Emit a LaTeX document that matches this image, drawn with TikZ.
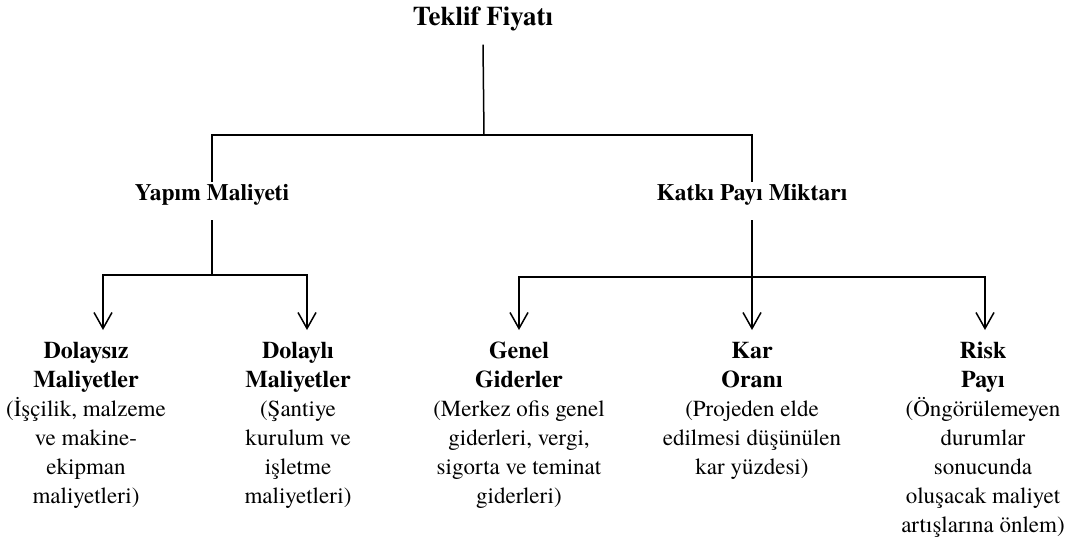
\documentclass[tikz,border=0pt]{standalone}
\usepackage{fontspec}
\setmainfont{texgyretermes}[Extension=.otf,UprightFont=*-regular,BoldFont=*-bold,ItalicFont=*-italic,BoldItalicFont=*-bolditalic]
\usetikzlibrary{arrows.meta,calc}
\newcommand{\leafhead}[1]{{\fontsize{24}{29}\selectfont\bfseries #1}}
\begin{document}
\begin{tikzpicture}[x=1pt,y=-1pt,
  link/.style={line width=1.5pt},
  arr/.style={link,-{Straight Barb[length=16pt,width=18pt,line width=1.5pt]}},
  head/.style={inner sep=0pt,anchor=base,font=\bfseries\fontsize{23.5}{29}\selectfont},
  leaf/.style={align=center,anchor=north,inner xsep=0pt,inner ysep=12pt,
    font=\fontsize{23}{29}\selectfont},
]
\useasboundingbox (0,0) rectangle (1076,553);

% top level and the two main branches
\node[head,font=\bfseries\fontsize{27}{29}\selectfont] (teklif) at (483,26) {Teklif Fiyatı};
\node[head] (yapim) at (212,201) {Yapım Maliyeti};
\node[head] (katki) at (752,201) {Katkı Payı Miktarı};

% junction points of the tree
\coordinate (top) at (484,135);
\coordinate (mid1) at (212,275);
\coordinate (mid2) at (752,277);

% leaves
\node[leaf] (dolaysiz) at (86,330) {\leafhead{Dolaysız}\\\leafhead{Maliyetler}\\(İşçilik, malzeme\\ve makine-\\ekipman\\maliyetleri)};
\node[leaf] (dolayli) at (298,330) {\leafhead{Dolaylı}\\\leafhead{Maliyetler}\\(Şantiye\\kurulum ve\\işletme\\maliyetleri)};
\node[leaf] (genel) at (519,330) {\leafhead{Genel}\\\leafhead{Giderler}\\(Merkez ofis genel\\giderleri, vergi,\\sigorta ve teminat\\giderleri)};
\node[leaf] (kar) at (752,330) {\leafhead{Kar}\\\leafhead{Oranı}\\(Projeden elde\\edilmesi düşünülen\\kar yüzdesi)};
\node[leaf] (risk) at (983,330) {\leafhead{Risk}\\\leafhead{Payı}\\(Öngörülemeyen\\durumlar\\sonucunda\\oluşacak maliyet\\artışlarına önlem)};

% connectors
\draw[link] ($(teklif.south)+(0,13)$) -- (top);
\draw[link] ($(yapim.north)+(0,-3)$) |- (top) -| ($(katki.north)+(0,-3)$);
\draw[link] ($(yapim.south)+(0,14)$) -- (mid1);
\draw[arr] (mid1) -| ($(dolaysiz.north)+(17,0)$);
\draw[arr] (mid1) -| ($(dolayli.north)+(9,0)$);
\draw[arr] ($(katki.south)+(0,14)$) -- (kar.north);
\draw[arr] (mid2) -| (genel.north);
\draw[arr] (mid2) -| ($(risk.north)+(2,0)$);
\end{tikzpicture}
\end{document}
